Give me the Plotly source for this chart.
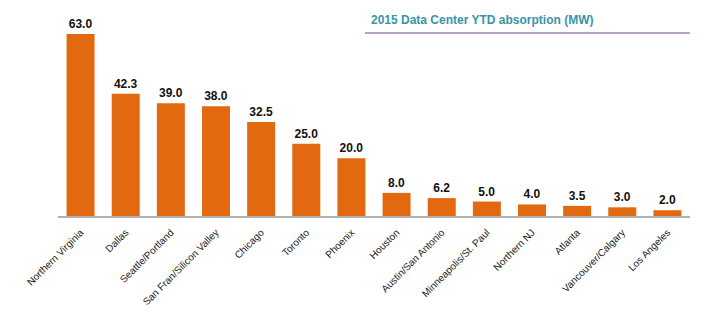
import plotly.graph_objects as go

markets = ["Northern Virginia", "Dallas", "Seattle/Portland", "San Fran/Silicon Valley",
           "Chicago", "Toronto", "Phoenix", "Houston", "Austin/San Antonio",
           "Minneapolis/St. Paul", "Northern NJ", "Atlanta", "Vancouver/Calgary", "Los Angeles"]
absorption_mw = [63.0, 42.3, 39.0, 38.0, 32.5, 25.0, 20.0, 8.0, 6.2, 5.0, 4.0, 3.5, 3.0, 2.0]
title_text = "2015 Data Center YTD absorption (MW)"

W, H = 708, 330
ml, mr, mt, mb = 58, 18, 20, 114

fig = go.Figure(go.Bar(
    x=markets, y=absorption_mw,
    marker=dict(color="#E2690F", line=dict(width=0)),
    text=[f"<b>{v:.1f}</b>" for v in absorption_mw],
    textposition="outside",
    textfont=dict(family="Liberation Sans, Arial", size=12, color="#111111"),
    cliponaxis=False,
))

fig.update_layout(
    width=W, height=H,
    margin=dict(l=ml, r=mr, t=mt, b=mb),
    paper_bgcolor="white", plot_bgcolor="white",
    bargap=0.38,
    showlegend=False,
    font=dict(family="Liberation Sans, Arial"),
    xaxis=dict(
        tickangle=-45,
        tickfont=dict(family="Liberation Sans, Arial", size=10, color="#222222"),
        showline=True, linecolor="#B0B0B0", linewidth=1.5,
        ticks="", showgrid=False, ticklabelstandoff=5,
    ),
    yaxis=dict(range=[0, 67.85], visible=False, showgrid=False, zeroline=False),
    annotations=[dict(
        text=f"<b>{title_text}</b>", xref="paper", yref="paper",
        x=(369 - ml) / (W - ml - mr), y=(216 - 20) / (H - mt - mb),
        xanchor="left", yanchor="middle", showarrow=False,
        font=dict(family="Liberation Sans, Arial", size=12, color="#3A93A8"),
    )],
    shapes=[dict(
        type="line", xref="paper", yref="paper",
        x0=(365 - ml) / (W - ml - mr), x1=1.0,
        y0=(216 - 33) / (H - mt - mb), y1=(216 - 33) / (H - mt - mb),
        line=dict(color="#9E86A6", width=1.5),
    )],
)

fig.write_html("out.html")
